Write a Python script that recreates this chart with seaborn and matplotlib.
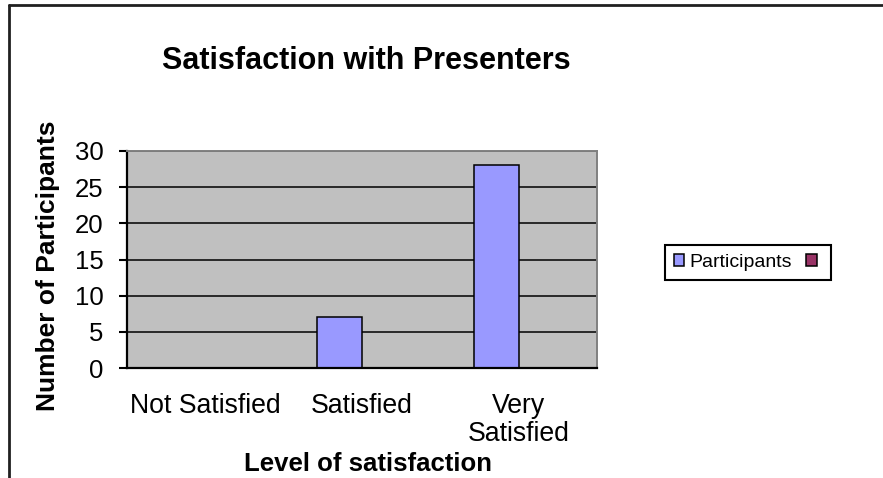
import pandas as pd
import seaborn as sns
import matplotlib.pyplot as plt
from matplotlib.lines import Line2D

# chart data
levels = ["Not Satisfied", "Satisfied", "Very\nSatisfied"]
participants = [0, 7, 28]
series2 = [None, None, None]   # empty second series (only in the legend)
series_names = ["Participants", "Series2"]

df = pd.DataFrame({
    "level": levels * 2,
    "count": participants + series2,
    "series": [series_names[0]] * 3 + [series_names[1]] * 3,
})
df["count"] = df["count"].astype(float)

sns.set_style("white")
plt.rcParams["font.family"] = ["Liberation Sans", "DejaVu Sans"]
plt.rcParams["text.color"] = "black"
plt.rcParams["axes.labelcolor"] = "black"
plt.rcParams["xtick.color"] = "black"
plt.rcParams["ytick.color"] = "black"

fig = plt.figure(figsize=(8.83, 4.78), dpi=100)
ax = fig.add_axes([127 / 883, 1 - 368 / 478, 470 / 883, 217 / 478])
ax.set_facecolor("#C0C0C0")

sns.barplot(data=df, x="level", y="count", hue="series", order=levels,
            hue_order=series_names,
            palette={"Participants": "#9999FF", "Series2": "#993366"},
            width=0.571, edgecolor="black", linewidth=1.1, ax=ax,
            errorbar=None, saturation=1)

ax.set_xlim(-0.5, 2.5)
ax.set_ylim(0, 30)
ax.set_yticks(range(0, 31, 5))
ax.yaxis.grid(True, color="black", linewidth=1.1)
ax.set_axisbelow(True)

# ticks: labels at category centres, tick marks on category boundaries
ax.set_xticks([-0.5, 0.5, 1.5, 2.5], minor=True)
ax.tick_params(axis="x", which="major", length=0, pad=18, labelsize=19.2,
               labelcolor="black")
ax.tick_params(axis="x", which="minor", length=6, width=1.5,
               color="black", direction="out")
ax.tick_params(axis="y", length=6, width=1.5, color="black",
               direction="out", pad=11, labelsize=18.5, left=True,
               labelcolor="black")
for t in ax.get_xticklabels():
    t.set_linespacing(1.09)

for s in ["left", "bottom"]:
    ax.spines[s].set_color("black")
    ax.spines[s].set_linewidth(1.6)
for s in ["top", "right"]:
    ax.spines[s].set_color("#808080")
    ax.spines[s].set_linewidth(1.4)

ax.set_xlabel("Level of satisfaction", fontsize=18.5, fontweight="bold",
              color="black")
ax.xaxis.label.set_va("center")
ax.xaxis.set_label_coords(0.512, -0.443)
ax.set_ylabel("Number of Participants", fontsize=19, fontweight="bold",
              color="black")
ax.yaxis.label.set_va("center")
ax.yaxis.set_label_coords(-0.168, 0.47)

ax.set_title("Satisfaction with Presenters", fontsize=22, fontweight="bold",
             x=0.509, y=1.415, va="center", pad=0, color="black")

handles, _ = ax.get_legend_handles_labels()
ax.legend(handles, ["Participants", ""], ncol=2, fontsize=14,
          loc="upper left", bbox_to_anchor=(665 / 883, 1 - 245 / 478),
          bbox_transform=fig.transFigure, frameon=True, fancybox=False,
          edgecolor="black", framealpha=1, handlelength=0.55,
          handleheight=0.55, handletextpad=0.25, columnspacing=0.75,
          borderpad=0.45, borderaxespad=0, labelcolor="black")
ax.get_legend().get_frame().set_linewidth(1.5)

# chart border (left and top edges)
fig.add_artist(Line2D([9 / 883, 9 / 883], [0, 1 - 5 / 478],
                      transform=fig.transFigure, color="#202020", lw=2))
fig.add_artist(Line2D([9 / 883, 1], [1 - 5 / 478, 1 - 5 / 478],
                      transform=fig.transFigure, color="#202020", lw=2))

fig.savefig("out.png", dpi=100, facecolor="white")
